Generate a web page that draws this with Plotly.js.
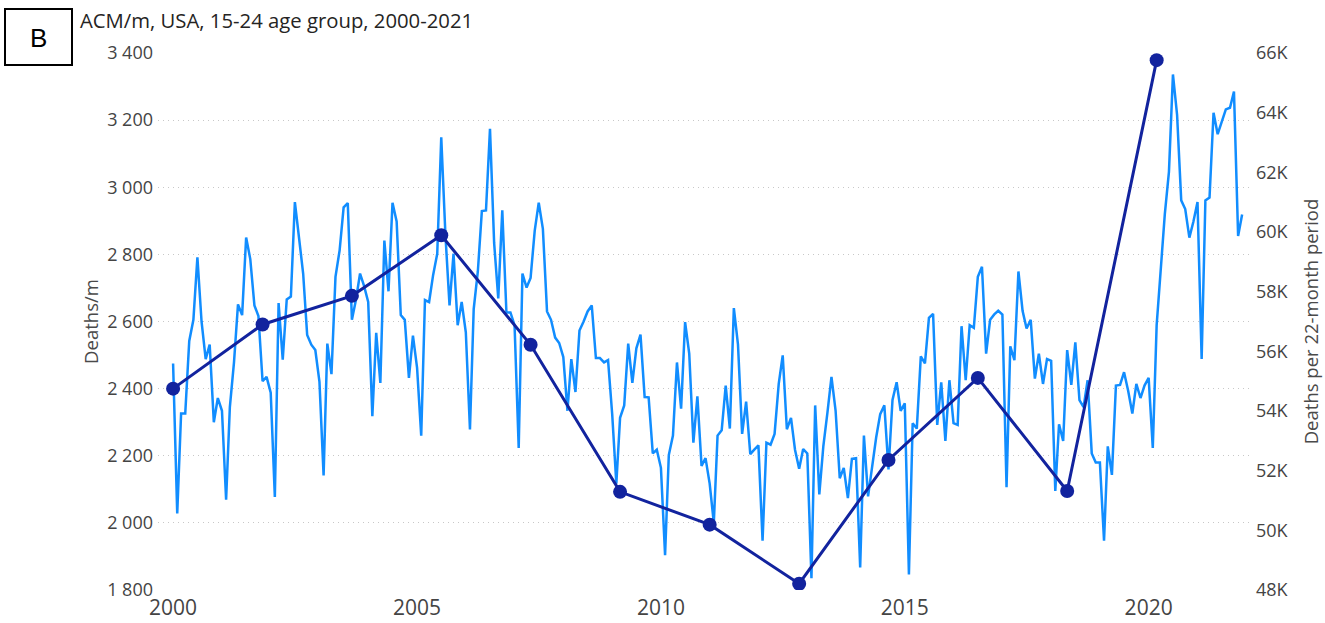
<!DOCTYPE html>
<html>
<head>
<meta charset="utf-8">
<script src="https://cdn.plot.ly/plotly-3.0.1.min.js"></script>
<style>
  html, body { margin: 0; padding: 0; background: #ffffff; }
  #chart { width: 1325px; height: 623px; }
</style>
</head>
<body>
<div id="chart"></div>
<script>
// Monthly all-cause mortality, USA, 15-24 age group (deaths per month), Jan 2000 .. Dec 2021
const startYear = 2000;
const monthlyDeaths = [
  2475,2028,2326,2326,2542,2605,2791,2600,2488,2531,
  2300,2372,2334,2069,2345,2478,2651,2619,2850,2786,
  2648,2616,2422,2435,2388,2077,2655,2486,2666,2674,
  2956,2839,2743,2560,2531,2515,2420,2141,2534,2443,
  2733,2812,2940,2953,2605,2664,2743,2706,2658,2318,
  2566,2417,2841,2690,2954,2898,2619,2605,2432,2558,
  2462,2260,2664,2658,2738,2802,3149,2860,2648,2802,
  2589,2658,2568,2278,2637,2749,2929,2931,3174,2834,
  2669,2931,2627,2627,2589,2223,2743,2701,2730,2871,
  2954,2876,2630,2605,2552,2536,2494,2334,2488,2390,
  2573,2600,2630,2648,2491,2491,2478,2485,2324,2117,
  2313,2350,2534,2417,2520,2561,2375,2374,2207,2218,
  2164,1904,2202,2260,2478,2340,2598,2504,2239,2377,
  2170,2193,2117,2000,2260,2276,2409,2281,2640,2531,
  2265,2361,2205,2218,2231,1947,2239,2233,2265,2414,
  2499,2279,2313,2218,2161,2220,2207,1835,2350,2085,
  2228,2329,2435,2334,2133,2164,2074,2191,2193,1867,
  2260,2079,2164,2255,2324,2350,2159,2366,2419,2334,
  2356,1846,2297,2281,2496,2475,2611,2623,2292,2419,
  2244,2425,2297,2292,2586,2425,2589,2581,2733,2763,
  2504,2605,2621,2632,2621,2106,2526,2485,2749,2632,
  2579,2605,2430,2504,2414,2488,2483,2095,2294,2244,
  2515,2411,2538,2366,2345,2425,2207,2180,2180,1947,
  2228,2143,2409,2411,2449,2393,2326,2414,2372,2409,
  2432,2223,2589,2749,2919,3046,3336,3216,2961,2935,
  2850,2897,2956,2488,2961,2969,3222,3158,3195,3232,
  3237,3285,2855,2919
];

// Deaths per 22-month period (start month of each period)
const periodStarts = [
  "2000-01-01","2001-11-01","2003-09-01","2005-07-01","2007-05-01","2009-03-01",
  "2011-01-01","2012-11-01","2014-09-01","2016-07-01","2018-05-01","2020-03-01"
];
const periodDeaths = [
  54750, 56900, 57860, 59890, 56220, 51290,
  50190, 48210, 52360, 55110, 51320, 65760
];

// Axis ticks
const leftTicks = [1800,2000,2200,2400,2600,2800,3000,3200,3400];
const rightTicks = [48000,50000,52000,54000,56000,58000,60000,62000,64000,66000];
const rightTickText = ["48K","50K","52K","54K","56K","58K","60K","62K","64K","66K"];

const chartTitle = "ACM/m, USA, 15-24 age group, 2000-2021";
const leftAxisTitle = "Deaths/m";
const rightAxisTitle = "Deaths per 22-month period";
const panelLabel = "B";

// month dates for the monthly series
const monthDates = monthlyDeaths.map((_, i) => {
  const y = startYear + Math.floor(i / 12);
  const m = (i % 12) + 1;
  return y + "-" + String(m).padStart(2, "0") + "-01";
});

const FONT = "Open Sans, DejaVu Sans, sans-serif";
const TICK_COLOR = "#444444";
const AXIS_TITLE_COLOR = "#4a4a4a";

const traces = [
  {
    type: "scatter",
    mode: "lines",
    x: monthDates,
    y: monthlyDeaths,
    yaxis: "y",
    line: { color: "#118DFF", width: 2.5 },
    hoverinfo: "x+y",
    showlegend: false
  },
  {
    type: "scatter",
    mode: "lines+markers",
    x: periodStarts,
    y: periodDeaths,
    yaxis: "y2",
    line: { color: "#12239E", width: 3 },
    marker: { color: "#12239E", size: 14 },
    showlegend: false
  }
];

const layout = {
  width: 1325,
  height: 623,
  margin: { l: 158, r: 73, t: 53, b: 33, pad: 0 },
  paper_bgcolor: "#ffffff",
  plot_bgcolor: "#ffffff",
  separators: ". ",
  font: { family: FONT, color: TICK_COLOR, size: 18 },
  title: {
    text: chartTitle,
    x: 80 / 1325,
    xanchor: "left",
    xref: "container",
    y: 1 - 21 / 623,
    yanchor: "middle",
    yref: "container",
    font: { family: FONT, size: 20.3, color: "#252423" }
  },
  xaxis: {
    type: "date",
    range: ["1999-09-10", "2022-02-13"],
    tick0: "2000-01-01",
    dtick: "M60",
    tickformat: "%Y",
    showgrid: false,
    zeroline: false,
    showline: false,
    ticks: "",
    ticklabelstandoff: 3,
    tickfont: { family: FONT, size: 21, color: TICK_COLOR }
  },
  yaxis: {
    range: [1800, 3400],
    tickvals: leftTicks,
    tickformat: ",d",
    showgrid: true,
    gridcolor: "#c8c8c8",
    griddash: "1px,4px",
    gridwidth: 1,
    zeroline: false,
    showline: false,
    ticks: "",
    ticklabelstandoff: 4,
    tickfont: { family: FONT, size: 18, color: TICK_COLOR },
    title: {
      text: leftAxisTitle,
      standoff: 3,
      font: { family: FONT, size: 18.5, color: AXIS_TITLE_COLOR }
    }
  },
  yaxis2: {
    overlaying: "y",
    side: "right",
    range: [48000, 66000],
    tickvals: rightTicks,
    ticktext: rightTickText,
    showgrid: false,
    zeroline: false,
    showline: false,
    ticks: "",
    ticklabelstandoff: 3,
    tickfont: { family: FONT, size: 18, color: TICK_COLOR },
    title: {
      text: rightAxisTitle,
      standoff: 17,
      font: { family: FONT, size: 18.5, color: AXIS_TITLE_COLOR }
    }
  },
  shapes: [
    {
      type: "rect",
      xref: "paper", yref: "paper",
      x0: (5 - 158) / 1094, x1: (72 - 158) / 1094,
      y0: (590 - 65) / 537, y1: (590 - 9) / 537,
      line: { color: "#000000", width: 2 },
      fillcolor: "rgba(0,0,0,0)"
    }
  ],
  annotations: [
    {
      text: panelLabel,
      xref: "paper", yref: "paper",
      x: ((5 + 72) / 2 - 158) / 1094,
      y: (590 - 38) / 537,
      xanchor: "center", yanchor: "middle",
      showarrow: false,
      font: { family: "Liberation Sans, Arial, sans-serif", size: 26, color: "#000000" }
    }
  ]
};

Plotly.newPlot("chart", traces, layout, { displayModeBar: false, staticPlot: true });
</script>
</body>
</html>
